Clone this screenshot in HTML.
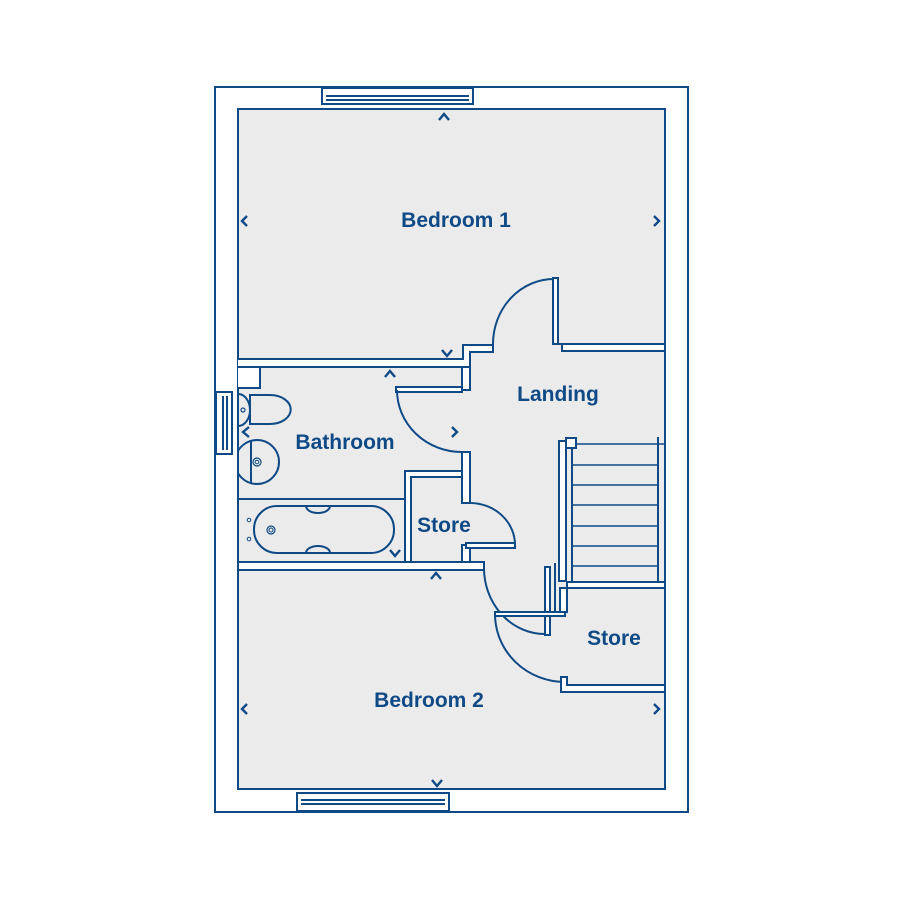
<!DOCTYPE html>
<html><head><style>body{margin:0;background:#fff}svg{display:block}text{font-family:"Liberation Sans",sans-serif;font-weight:bold;font-size:21px;fill:#0f4a86;text-anchor:middle}</style></head>
<body>
<svg width="900" height="900" viewBox="0 0 900 900" xmlns="http://www.w3.org/2000/svg">
<defs><clipPath id="c"><rect x="239" y="380" width="100" height="120"/></clipPath></defs>
<g stroke="#0f4a86" stroke-width="2" fill="none">
<rect x="215" y="87" width="473" height="725" fill="#fff"/>
<rect x="238" y="109" width="427" height="680" fill="#ebebeb"/>
<rect x="322" y="88" width="151" height="16" fill="#fff"/><line x1="326" y1="96" x2="469" y2="96"/><line x1="326" y1="100" x2="469" y2="100"/>
<rect x="297" y="793" width="152" height="18" fill="#fff"/><line x1="301" y1="800" x2="445" y2="800"/><line x1="301" y1="804" x2="445" y2="804"/>
<rect x="216" y="392" width="16" height="62" fill="#fff"/><line x1="223" y1="396" x2="223" y2="450"/><line x1="227" y1="396" x2="227" y2="450"/>
<path d="M238 359 H463 V345 H493 V352 H470 V367 H238" fill="#fff"/>
<path d="M556 344 H665 V351 H562 V344" fill="#fff"/>
<path d="M462 367 H470 V390 H462 Z" fill="#fff"/>
<path d="M462 452 H470 V503 H462 Z" fill="#fff"/>
<path d="M238 562 H484 V570 H238 Z" fill="#fff"/>
<path d="M405 471 H462 V477 H411 V562 H405 Z" fill="#fff"/>
<path d="M462 545 H470 V562 H462 Z" fill="#fff"/>
<path d="M238 367 H260 V388 H238" fill="#fff"/>
<line x1="238" y1="499" x2="405" y2="499"/>
<rect x="553" y="278" width="5" height="66" fill="#fff"/>
<path d="M554 279 A61 65 0 0 0 493 344"/>
<rect x="396" y="387" width="66" height="5" fill="#fff"/>
<path d="M397 390 A65 62 0 0 0 462 452"/>
<rect x="466" y="543" width="49" height="5" fill="#fff"/>
<path d="M470 503 A45 42 0 0 1 515 545"/>
<rect x="545" y="567" width="5" height="68" fill="#fff"/>
<path d="M484 567 A61 66 0 0 0 545 634"/>
<rect x="495" y="612" width="70" height="4" fill="#fff"/>
<path d="M495 614 A70 68 0 0 0 565 682"/>
<path d="M561 677 H567 V685 H665 V692 H561 Z" fill="#fff"/>
<path d="M567 582 H665 V588 H567 Z" fill="#fff"/>
<path d="M560 588 H567 V612 H560 Z" fill="#fff"/>
<rect x="559" y="441" width="7" height="140" fill="#fff"/>
<line x1="550" y1="567" x2="550" y2="612"/><line x1="555" y1="563" x2="555" y2="612"/>
<rect x="566" y="438" width="10" height="10" fill="#fff"/>
<line x1="572" y1="448" x2="572" y2="582"/>
<line x1="658" y1="437" x2="658" y2="582"/>
<g stroke-width="1.6"><line x1="576" y1="444" x2="665" y2="444"/><line x1="572" y1="465" x2="658" y2="465"/><line x1="572" y1="485" x2="658" y2="485"/><line x1="572" y1="505" x2="658" y2="505"/><line x1="572" y1="526" x2="658" y2="526"/><line x1="572" y1="546" x2="658" y2="546"/><line x1="572" y1="566" x2="658" y2="566"/></g>
<path d="M250 395 H270 A20 14 0 0 1 270 424 H250 Z" fill="#ebebeb"/>
<path d="M239 394 A12 16 0 0 1 250 410 A12 16 0 0 1 239 426"/>
<circle cx="243" cy="410" r="2" stroke-width="1.2"/>
<g clip-path="url(#c)"><circle cx="257" cy="462" r="22"/><line x1="251" y1="441" x2="251" y2="483"/></g>
<circle cx="257" cy="462" r="4" stroke-width="1.2"/><circle cx="257" cy="462" r="1.8" stroke-width="1"/>
<rect x="254" y="506" width="140" height="47" rx="23"/>
<path d="M306 506 A12 7 0 0 0 330 506"/><path d="M306 553 A12 7 0 0 1 330 553"/>
<circle cx="271" cy="530" r="4" stroke-width="1.2"/><circle cx="271" cy="530" r="2" stroke-width="1"/>
<circle cx="249" cy="520" r="1.8" stroke-width="1"/><circle cx="249" cy="539" r="1.8" stroke-width="1"/>
<g stroke-width="2.4">
<path d="M439 120 L444 114 L449 120"/><path d="M247 216 L242 221 L247 226"/><path d="M654 216 L659 221 L654 226"/><path d="M442 350 L447 356 L452 350"/>
<path d="M385 377 L390 371 L395 377"/><path d="M249 427 L243 432 L249 437"/><path d="M452 427 L457 432 L452 437"/><path d="M390 550 L395 556 L400 550"/>
<path d="M431 579 L436 573 L441 579"/><path d="M247 704 L242 709 L247 714"/><path d="M654 704 L659 709 L654 714"/><path d="M432 780 L437 786 L442 780"/>
</g>
</g>
<text x="456" y="227">Bedroom 1</text>
<text x="558" y="401">Landing</text>
<text x="345" y="449">Bathroom</text>
<text x="444" y="532">Store</text>
<text x="614" y="645">Store</text>
<text x="429" y="707">Bedroom 2</text>
</svg>
</body></html>
